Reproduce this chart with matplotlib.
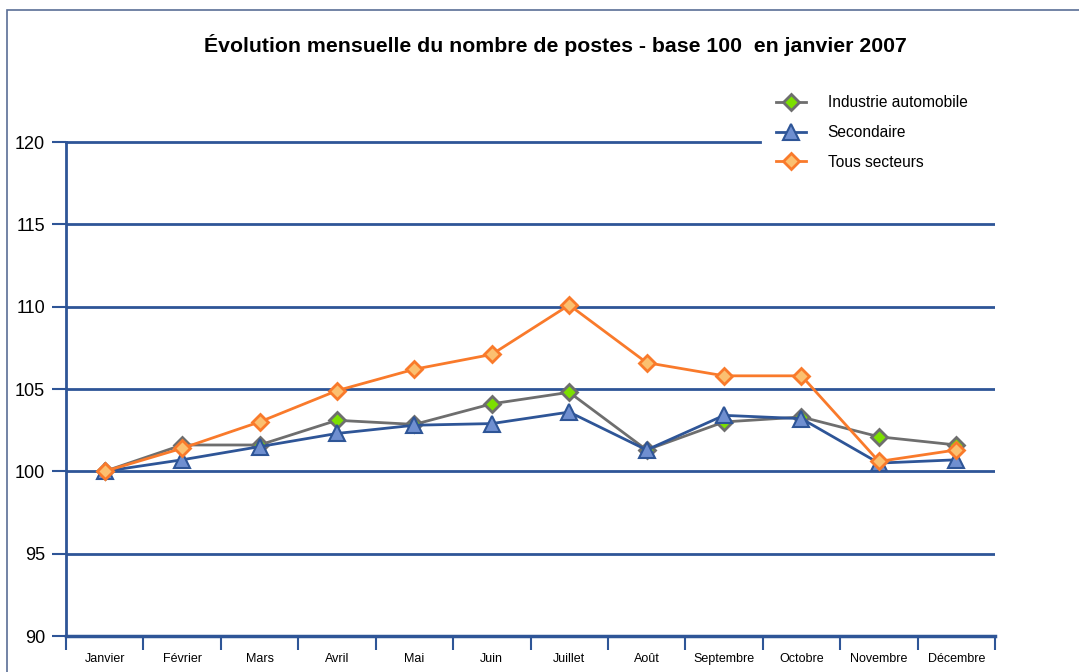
import matplotlib.pyplot as plt
from matplotlib.patches import Rectangle

plt.rcParams['font.family'] = ['Liberation Sans', 'DejaVu Sans']

months = ['Janvier', 'Février', 'Mars', 'Avril', 'Mai', 'Juin', 'Juillet',
          'Août', 'Septembre', 'Octobre', 'Novembre', 'Décembre']
industrie = [100, 101.6, 101.6, 103.1, 102.85, 104.1, 104.8, 101.3, 103.0, 103.3, 102.1, 101.6]
secondaire = [100, 100.7, 101.5, 102.3, 102.8, 102.9, 103.6, 101.3, 103.4, 103.2, 100.5, 100.7]
tous = [100, 101.4, 103.0, 104.9, 106.2, 107.1, 110.1, 106.6, 105.8, 105.8, 100.6, 101.3]

blue = '#2E5597'
fig = plt.figure(figsize=(10.79, 6.72), dpi=100)
# cadre du graphique
fig.patches.append(Rectangle((7 / 1079, -0.1), 1.2, 1.1 - 10 / 672,
                             transform=fig.transFigure, fill=False,
                             edgecolor='#5A6E96', lw=1.2))

ax = fig.add_axes([66 / 1079, 1 - 636 / 672, 929 / 1079, 494 / 672])
x = list(range(len(months)))

ax.plot(x, industrie, color='#6E6E6E', lw=2, marker='D', ms=8,
        mfc='#7CE000', mec='#6E6E6E', mew=2, label='Industrie automobile', zorder=3)
ax.plot(x, secondaire, color=blue, lw=2, marker='^', ms=11,
        mfc='#6F8FD0', mec=blue, mew=1.5, label='Secondaire', zorder=4)
ax.plot(x, tous, color='#F97A2B', lw=2, marker='D', ms=8,
        mfc='#FBC070', mec='#F97A2B', mew=2, label='Tous secteurs', zorder=5)

ax.set_xlim(-0.5, 11.5)
ax.set_ylim(90, 120)
ax.set_yticks(range(90, 121, 5))
for v in range(95, 120, 5):
    ax.axhline(v, color=blue, lw=2, zorder=1)
# la ligne 120 est cachee par la legende a droite
ax.axhline(120, xmax=(760 - 66) / 929, color=blue, lw=2, zorder=1, clip_on=False)

ax.set_xticks([i - 0.5 for i in range(13)], minor=False)
ax.set_xticklabels([])
ax.set_xticks(x, minor=True)
ax.set_xticklabels(months, minor=True, fontsize=9)
ax.tick_params(axis='x', which='major', direction='out', length=10, width=1.5, color=blue)
ax.tick_params(axis='x', which='minor', length=0, pad=12)
ax.tick_params(axis='y', direction='out', length=10, width=1.5, color=blue,
               labelsize=13, pad=5)

for s in ['top', 'right']:
    ax.spines[s].set_visible(False)
ax.spines['left'].set_color(blue)
ax.spines['left'].set_linewidth(2)
ax.spines['bottom'].set_color(blue)
ax.spines['bottom'].set_linewidth(2.5)

fig.text(555 / 1079, 1 - 45 / 672, 'Évolution mensuelle du nombre de postes - base 100  en janvier 2007',
         ha='center', va='center', fontsize=15.3, fontweight='bold')

leg = fig.legend(loc='upper left', bbox_to_anchor=(770 / 1079, 1 - 89 / 672),
                 frameon=False, fontsize=11.2, handlelength=1.9, labelspacing=0.95,
                 borderaxespad=0, handletextpad=1.4)

fig.savefig('out.png', dpi=100)
